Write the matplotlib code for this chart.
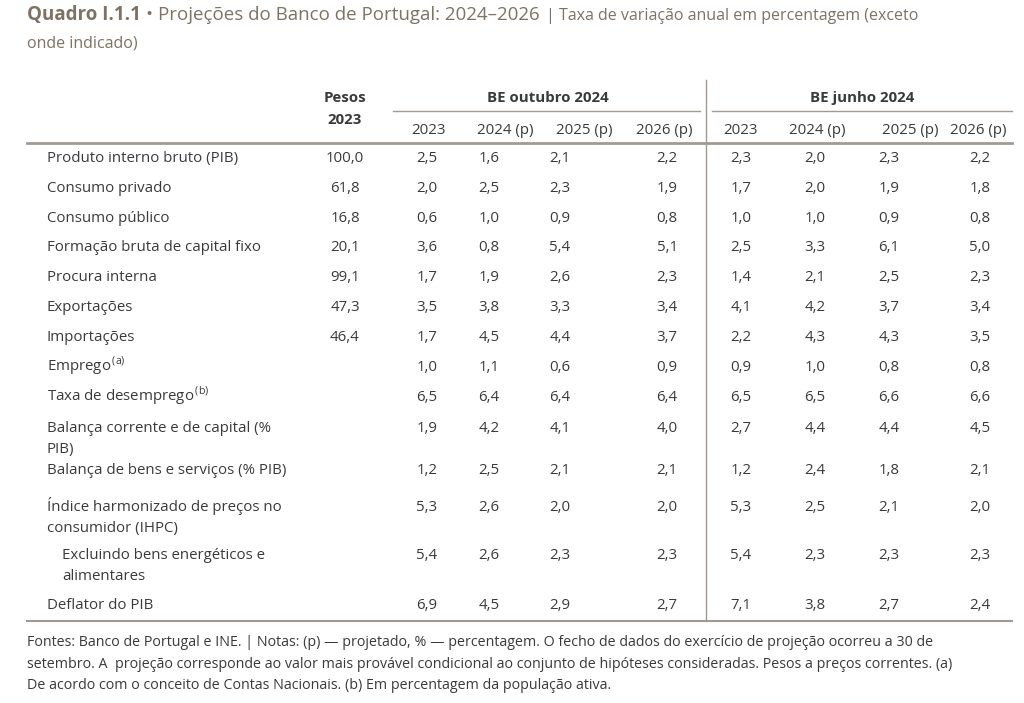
import matplotlib
matplotlib.use("Agg")
import matplotlib.pyplot as plt

plt.rcParams['font.family'] = ['Open Sans', 'DejaVu Sans']
plt.rcParams['mathtext.fontset'] = 'custom'
plt.rcParams['mathtext.rm'] = 'Open Sans'

row_labels = ["Produto interno bruto (PIB)", "Consumo privado", "Consumo público",
              "Formação bruta de capital fixo", "Procura interna", "Exportações",
              "Importações", "Emprego$^{\\,\\mathrm{(a)}}$", "Taxa de desemprego$^{\\,\\mathrm{(b)}}$",
              "Balança corrente e de capital (%\nPIB)", "Balança de bens e serviços (% PIB)",
              "Índice harmonizado de preços no\nconsumidor (IHPC)",
              "Excluindo bens energéticos e\nalimentares", "Deflator do PIB"]
pesos = ["100,0", "61,8", "16,8", "20,1", "99,1", "47,3", "46,4", "", "", "", "", "", "", ""]
be_out = [["2,5","1,6","2,1","2,2"],["2,0","2,5","2,3","1,9"],["0,6","1,0","0,9","0,8"],
          ["3,6","0,8","5,4","5,1"],["1,7","1,9","2,6","2,3"],["3,5","3,8","3,3","3,4"],
          ["1,7","4,5","4,4","3,7"],["1,0","1,1","0,6","0,9"],["6,5","6,4","6,4","6,4"],
          ["1,9","4,2","4,1","4,0"],["1,2","2,5","2,1","2,1"],["5,3","2,6","2,0","2,0"],
          ["5,4","2,6","2,3","2,3"],["6,9","4,5","2,9","2,7"]]
be_jun = [["2,3","2,0","2,3","2,2"],["1,7","2,0","1,9","1,8"],["1,0","1,0","0,9","0,8"],
          ["2,5","3,3","6,1","5,0"],["1,4","2,1","2,5","2,3"],["4,1","4,2","3,7","3,4"],
          ["2,2","4,3","4,3","3,5"],["0,9","1,0","0,8","0,8"],["6,5","6,5","6,6","6,6"],
          ["2,7","4,4","4,4","4,5"],["1,2","2,4","1,8","2,1"],["5,3","2,5","2,1","2,0"],
          ["5,4","2,3","2,3","2,3"],["7,1","3,8","2,7","2,4"]]
sub_headers = ["2023", "2024 (p)", "2025 (p)", "2026 (p)"]

W, H = 1024, 703
fig = plt.figure(figsize=(W/100, H/100), dpi=100)
ax = fig.add_axes([0, 0, 1, 1])
ax.set_xlim(0, W); ax.set_ylim(H, 0); ax.axis('off')

TXT = '#3a3a3a'; TITLE = '#7d7263'; LINE = '#a09a92'
fs = 10.8
off = 5  # baseline offset from row centre

r = fig.canvas.get_renderer()
t1 = ax.text(27, 20, "Quadro I.1.1", color=TITLE, fontsize=13.5, fontweight='bold', va='baseline')
x1 = ax.transData.inverted().transform(t1.get_window_extent(r))[1][0]
t2 = ax.text(x1 + 5, 20, "• Projeções do Banco de Portugal: 2024–2026", color=TITLE, fontsize=13.5, va='baseline')
x2 = ax.transData.inverted().transform(t2.get_window_extent(r))[1][0]
ax.text(x2 + 6, 20, "| Taxa de variação anual em percentagem (exceto", color=TITLE, fontsize=11.5, va='baseline')
ax.text(27, 48, "onde indicado)", color=TITLE, fontsize=11.5, va='baseline')

hkw = dict(color=TXT, fontsize=fs, fontweight='bold', ha='center', va='baseline')
ax.text(345, 97 + off, "Pesos", **hkw)
ax.text(345, 119 + off, "2023", **hkw)
ax.text(548, 97 + off, "BE outubro 2024", **hkw)
ax.text(862, 97 + off, "BE junho 2024", **hkw)
ax.plot([393, 700], [111, 111], color=LINE, lw=1)
ax.plot([712, 1012], [111, 111], color=LINE, lw=1)
ax.plot([706, 706], [80, 621], color=LINE, lw=1)
ax.plot([27, 1012], [143, 143], color=LINE, lw=2)
ax.plot([27, 1012], [621, 621], color=LINE, lw=1.5)

hx_out = [428, 505, 584, 664]; hx_jun = [741, 817, 910, 978]
vx_out = [427, 489, 560, 667]; vx_jun = [741, 815, 889, 980]
for i, h in enumerate(sub_headers):
    ax.text(hx_out[i], 129 + off, h, color=TXT, fontsize=fs, ha='center', va='baseline')
    ax.text(hx_jun[i], 129 + off, h, color=TXT, fontsize=fs, ha='center', va='baseline')

row_y = [157, 187, 217, 246, 276, 306, 336, 366, 396, 427, 469, 506, 554, 604]
for k, lab in enumerate(row_labels):
    y = row_y[k] + off
    x = 62 if lab.startswith("Excluindo") else 47
    for j, line in enumerate(lab.split("\n")):
        ax.text(x, y + j * 21, line, color=TXT, fontsize=fs, ha='left', va='baseline')
    ax.text(345, y, pesos[k], color=TXT, fontsize=fs, ha='center', va='baseline')
    for c in range(4):
        ax.text(vx_out[c], y, be_out[k][c], color=TXT, fontsize=fs, ha='center', va='baseline')
        ax.text(vx_jun[c], y, be_jun[k][c], color=TXT, fontsize=fs, ha='center', va='baseline')

foot = ["Fontes: Banco de Portugal e INE. | Notas: (p) — projetado, % — percentagem. O fecho de dados do exercício de projeção ocorreu a 30 de",
        "setembro. A  projeção corresponde ao valor mais provável condicional ao conjunto de hipóteses consideradas. Pesos a preços correntes. (a)",
        "De acordo com o conceito de Contas Nacionais. (b) Em percentagem da população ativa."]
for j, line in enumerate(foot):
    ax.text(27, 646 + j * 21.5, line, color=TXT, fontsize=10.3, ha='left', va='baseline')

fig.savefig("out.png", dpi=100, facecolor='white')
